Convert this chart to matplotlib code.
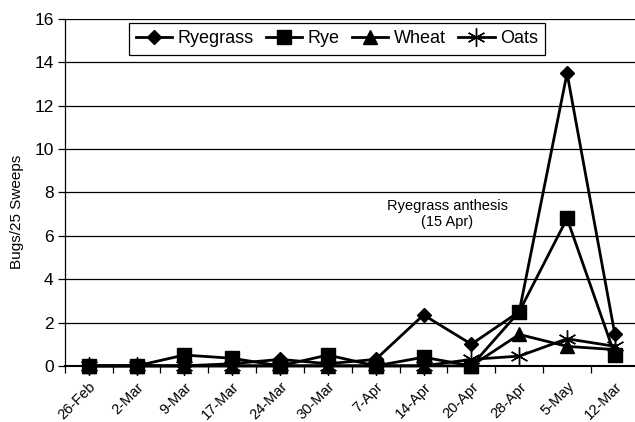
import matplotlib
matplotlib.use("Agg")
import matplotlib.pyplot as plt
import numpy as np

plt.rcParams['font.family'] = ['Liberation Sans', 'DejaVu Sans']

dates = ["26-Feb", "2-Mar", "9-Mar", "17-Mar", "24-Mar", "30-Mar",
         "7-Apr", "14-Apr", "20-Apr", "28-Apr", "5-May", "12-Mar"]
ryegrass = [0, 0, 0, 0.1, 0.3, 0.1, 0.3, 2.35, 1.0, 2.5, 13.5, 1.45]
rye = [0, 0, 0.5, 0.35, 0, 0.5, 0, 0.4, 0, 2.5, 6.8, 0.5]
wheat = [0, 0, 0, 0, 0, 0, 0, 0, 0, 1.45, 0.9, 0.75]
oats = [0, 0, 0, 0, 0, 0, 0, 0, 0.3, 0.45, 1.25, 0.9]

fig = plt.figure(figsize=(6.35, 4.22), dpi=100)
ax = fig.add_axes([0.102, 0.133, 0.904, 0.822])

x = np.arange(len(dates))
lw = 2.0
ax.plot(x, ryegrass, color='black', lw=lw, marker='D', ms=7.5, clip_on=False, label='Ryegrass', zorder=5)
ax.plot(x, rye, color='black', lw=lw, marker='s', ms=10.5, clip_on=False, label='Rye', zorder=5)
ax.plot(x, wheat, color='black', lw=lw, marker='^', ms=10.5, clip_on=False, label='Wheat', zorder=5)
ax.plot(x, oats, color='black', lw=lw, marker=(6, 2, 0), ms=13, mew=1.0, clip_on=False, label='Oats', zorder=5)

ax.set_xlim(-0.5, len(dates) - 0.5)
ax.set_ylim(0, 16)
ax.set_yticks(range(0, 17, 2))
ax.yaxis.grid(True, color='black', lw=0.9)
ax.set_axisbelow(True)

ax.set_xticks(x)
ax.set_xticklabels(dates, rotation=45, ha='right', rotation_mode='anchor', fontsize=10.5)
ax.set_xticks(np.arange(-0.5, len(dates), 1), minor=True)
ax.tick_params(axis='x', which='major', length=0, pad=10)
ax.tick_params(axis='x', which='minor', length=5, width=0.9, direction='out')
ax.tick_params(axis='y', length=5, width=0.9, labelsize=12.5, pad=3)

for s in ['top', 'right']:
    ax.spines[s].set_visible(False)
ax.spines['left'].set_linewidth(0.9)
ax.spines['bottom'].set_linewidth(1.5)

ax.set_ylabel("Bugs/25 Sweeps", fontsize=11)
ax.yaxis.set_label_coords(-0.071, 0.445)

ax.text(7.5, 7.0, "Ryegrass anthesis\n(15 Apr)", ha='center', va='center', fontsize=10.5)

leg = ax.legend(loc='upper center', bbox_to_anchor=(0.474, 0.988), ncol=4, fontsize=13,
                frameon=True, fancybox=False, edgecolor='black', framealpha=1,
                handlelength=2.0, handletextpad=0.3, columnspacing=0.7, borderpad=0.4,
                borderaxespad=0)
leg.get_frame().set_linewidth(0.9)

fig.savefig("out.png", dpi=100)
